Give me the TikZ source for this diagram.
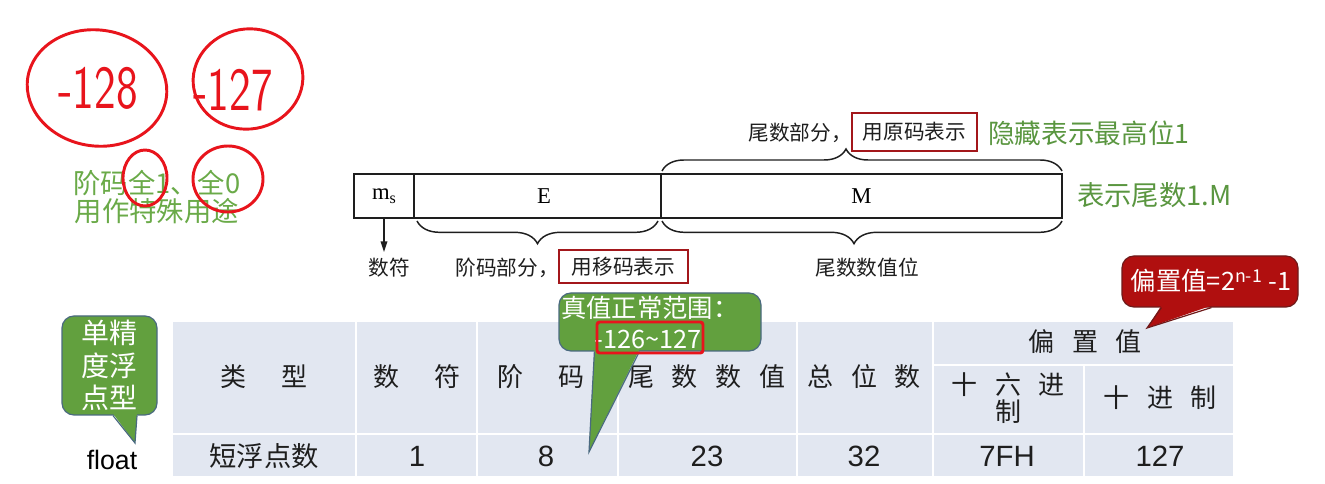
\documentclass[tikz,border=0pt]{standalone}
\usepackage{fontspec}
\setmainfont{Liberation Serif}
\newfontfamily\cjk{Noto Sans CJK SC}
\newfontfamily\arialf{Liberation Sans}
\usetikzlibrary{arrows.meta,decorations.pathreplacing,calc}
\definecolor{tabfill}{HTML}{E2E7F1}
\definecolor{lgreen}{HTML}{6AAA48}
\definecolor{dgreen}{HTML}{5A9640}
\definecolor{cgreen}{HTML}{62A03E}
\definecolor{cborder}{HTML}{4A6A80}
\definecolor{boxred}{HTML}{A3171B}
\definecolor{penred}{HTML}{E8141C}
\definecolor{cred}{HTML}{B00F0F}
\definecolor{credborder}{HTML}{6E1A1A}
\definecolor{ink}{HTML}{1E1E1E}
\begin{document}
\begin{tikzpicture}[x=0.75pt,y=0.75pt,
  fieldbox/.style={draw=ink,line width=1.1pt,inner sep=0pt,outer sep=0pt,minimum height=33pt,font=\fontsize{17pt}{18pt}\selectfont},
  bracelab/.style={font=\cjk\fontsize{15.5pt}{17pt}\selectfont,text=ink,inner sep=0pt},
  redframe/.style={draw=boxred,line width=2.2pt,inner sep=0pt,font=\cjk\fontsize{15.5pt}{17pt}\selectfont,text=ink},
  bracepath/.style={draw=ink,line width=1.1pt,decorate},
  greentext/.style={font=\cjk\fontsize{20.5pt}{21pt}\selectfont,inner sep=0pt},
  penline/.style={draw=penred,line width=2.2pt},
  pentext/.style={text=penred,font=\sffamily\fontsize{46pt}{46pt}\selectfont,inner sep=0pt},
  tabhead/.style={font=\cjk\fontsize{19.5pt}{24pt}\selectfont,text=ink,inner sep=0pt,align=center},
  tabdata/.style={font=\arialf\fontsize{22pt}{24pt}\selectfont,text=ink,inner sep=0pt},
  callgreen/.style={fill=cgreen,draw=cborder,line width=0.9pt,rounded corners=9pt,inner sep=0pt},
  callred/.style={fill=cred,draw=credborder,line width=0.9pt,rounded corners=9pt,inner sep=0pt},
  calltext/.style={text=white,inner sep=0pt},
  tabline/.style={draw=white,line width=1.6pt}
]
\useasboundingbox (0,0) rectangle (1325,-484);
\fill[white] (0,0) rectangle (1325,-484);

% ---------- handwritten marks ----------
\draw[penline,rotate around={-8:(97,-88)}] (97,-88) ellipse [x radius=70, y radius=58];
\draw[penline,rotate around={10:(248,-79)}] (248,-79) ellipse [x radius=55, y radius=50];
\node[pentext] (hw1) at (98,-88) {\scalebox{0.75}[1]{-128}};
\node[pentext] (hw2) at (233,-90) {\scalebox{0.75}[1]{-127}};

% ---------- green note on the left ----------
\node[greentext,text=lgreen,align=center] (special) at (157,-197) {阶码全1、全0\\用作特殊用途};
\draw[penline] (145,-178) ellipse [x radius=22, y radius=28];
\draw[penline] (228,-179) ellipse [x radius=35, y radius=33];

% ---------- format fields ----------
\node[fieldbox,minimum width=45pt] (ms) at (384,-196) {m\raisebox{-3pt}{\fontsize{12pt}{12pt}\selectfont s}};
\node[fieldbox,minimum width=185.25pt] (E) at (537.5,-196) {\hspace{10pt}E};
\node[fieldbox,minimum width=300.75pt] (M) at (861.5,-196) {M};

\coordinate (arrowend) at (384,-252);
\draw[ink,line width=1.1pt,-{Triangle[length=8pt,width=5pt]}] (ms.south) -- (arrowend);
\node[bracelab] (sign) at (389,-268) {数符};

% brace under E
\draw[bracepath,decoration={brace,amplitude=17pt,aspect=0.5}] ($(E.south east)+(-3,-3)$) -- ($(E.south west)+(3,-3)$);
\node[bracelab] (explab) at (507,-268) {阶码部分，};
\node[redframe,minimum width=96.75pt,minimum height=24.75pt] (biascode) at (623.5,-266.5) {用移码表示};

% brace above M
\draw[bracepath,decoration={brace,amplitude=16.5pt,aspect=0.46}] ($(M.north west)+(1,3)$) -- ($(M.north east)+(0,3)$);
\node[bracelab] (mantlab) at (800,-133) {尾数部分，};
\node[redframe,minimum width=93.75pt,minimum height=28.5pt] (truecode) at (914.5,-132) {用原码表示};
\node[greentext,text=dgreen,anchor=west,font=\cjk\fontsize{20pt}{21pt}\selectfont] (hidden) at (988,-133) {隐藏表示最高位1};

% brace under M
\draw[bracepath,decoration={brace,amplitude=17pt,aspect=0.52}] ($(M.south east)+(0,-3)$) -- ($(M.south west)+(1,-3)$);
\node[bracelab] (mantval) at (867,-268) {尾数数值位};

\node[greentext,text=dgreen,anchor=west] (onem) at (1077,-195) {表示尾数1.M};

% ---------- table ----------
\fill[tabfill] (173,-322) rectangle (1233,-476);
\draw[tabline] (356,-322) -- (356,-476);
\draw[tabline] (477,-322) -- (477,-476);
\draw[tabline] (618,-322) -- (618,-476);
\draw[tabline] (797,-322) -- (797,-476);
\draw[tabline] (933,-322) -- (933,-476);
\draw[tabline] (1084,-365) -- (1084,-476);
\draw[tabline] (173,-434) -- (1233,-434);
\draw[tabline] (933,-365) -- (1233,-365);

\node[tabhead] (h1) at (264,-377) {类\hspace{27pt}型};
\node[tabhead] (h2) at (417,-377) {数\hspace{27pt}符};
\node[tabhead] (h3) at (541,-377) {阶\hspace{27pt}码};
\node[tabhead] (h4) at (707,-377) {尾\hspace{13.5pt}数\hspace{13.5pt}数\hspace{13.5pt}值};
\node[tabhead] (h5) at (864,-377) {总\hspace{13.5pt}位\hspace{13.5pt}数};
\node[tabhead] (h6) at (1085,-342) {偏\hspace{13.5pt}置\hspace{13.5pt}值};
\node[tabhead,font=\cjk\fontsize{19.5pt}{20pt}\selectfont] (h7) at (1008,-398) {十\hspace{13.5pt}六\hspace{13.5pt}进\\制};
\node[tabhead] (h8) at (1160,-398) {十\hspace{13.5pt}进\hspace{13.5pt}制};

\node[tabhead,font=\cjk\fontsize{20.5pt}{24pt}\selectfont] (d1) at (264,-456) {短浮点数};
\node[tabdata] (d2) at (417,-456) {1};
\node[tabdata] (d3) at (546,-456) {8};
\node[tabdata] (d4) at (707,-456) {23};
\node[tabdata] (d5) at (864,-456) {32};
\node[tabdata] (d6) at (1007,-456) {7FH};
\node[tabdata] (d7) at (1160,-456) {127};

% ---------- callout: single precision ----------
\node[callgreen,minimum width=71.25pt,minimum height=74.25pt] (single) at (109.5,-365.5) {};
\coordinate (singletip) at (135,-443);
\fill[cgreen] ($(single.south)+(3.5,2)$) -- (singletip) -- ($(single.south)+(27.5,2)$) -- cycle;
\draw[cborder,line width=0.9pt] ($(single.south)+(3.5,0)$) -- (singletip) -- ($(single.south)+(27.5,0)$);
\node[calltext,align=center,font=\cjk\fontsize{21pt}{24.4pt}\selectfont] (singletext) at (single.center) {单精\\度浮\\点型};
\node[tabdata,font=\arialf\fontsize{20pt}{22pt}\selectfont,text=black] (float) at (112,-460) {float};

% ---------- callout: normal range ----------
\node[callgreen,minimum width=151.5pt,minimum height=43.5pt] (range) at (660,-322) {};
\coordinate (rangetip) at (589,-452);
\fill[cgreen] ($(range.south west)+(36,2)$) -- (rangetip) -- ($(range.south west)+(81,2)$) -- cycle;
\draw[cborder,line width=0.9pt] ($(range.south west)+(36,0)$) -- (rangetip) -- ($(range.south west)+(81,0)$);
\node[calltext,anchor=west,font=\cjk\fontsize{19pt}{20pt}\selectfont] (range1) at (561,-308) {真值正常范围：};
\node[calltext,font=\cjk\fontsize{19pt}{20pt}\selectfont] (range2) at (648,-339) {-126{\char"7E}127};
\draw[penline,rounded corners=2pt] (597,-322) rectangle (703,-353);

% ---------- callout: bias ----------
\node[callred,minimum width=132pt,minimum height=38.25pt] (bias) at (1210,-281.5) {};
\coordinate (biastip) at (1147,-328);
\fill[cred] ($(bias.south west)+(40,2)$) -- (biastip) -- ($(bias.south west)+(90,2)$) -- cycle;
\draw[credborder,line width=0.9pt] ($(bias.south west)+(40,0)$) -- (biastip) -- ($(bias.south west)+(90,0)$);
\node[calltext,font=\cjk\fontsize{19pt}{20pt}\selectfont] (biastext) at (1211,-281) {偏置值=2\textsuperscript{n-1} -1};
\end{tikzpicture}
\end{document}
